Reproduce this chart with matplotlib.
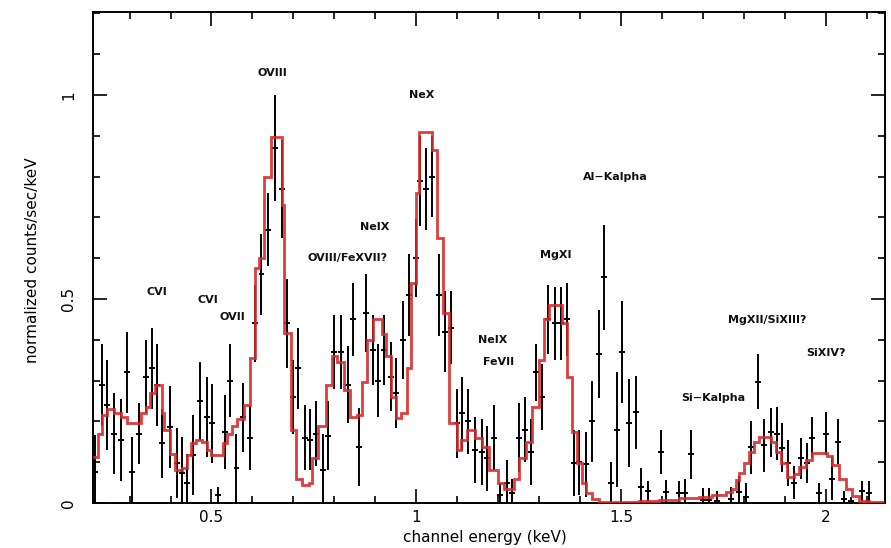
import matplotlib
matplotlib.use('Agg')
import matplotlib.pyplot as plt
from matplotlib.ticker import MultipleLocator

# ---- observed spectrum (keV, normalized counts/sec/keV, 1-sigma error) ----
energy = [0.215, 0.232, 0.246, 0.263, 0.278, 0.293, 0.307, 0.322, 0.339, 0.354,
          0.368, 0.380, 0.398, 0.415, 0.429, 0.441, 0.454, 0.473, 0.488, 0.502,
          0.517, 0.532, 0.546, 0.561, 0.578, 0.593, 0.607, 0.622, 0.637, 0.654,
          0.671, 0.685, 0.698, 0.712, 0.727, 0.741, 0.756, 0.771, 0.785, 0.800,
          0.817, 0.832, 0.846, 0.861, 0.878, 0.893, 0.907, 0.922, 0.939, 0.951,
          0.968, 0.983, 0.998, 1.010, 1.024, 1.039, 1.056, 1.071, 1.085, 1.100,
          1.112, 1.127, 1.144, 1.159, 1.173, 1.190, 1.205, 1.220, 1.234, 1.251,
          1.266, 1.280, 1.293, 1.307, 1.322, 1.339, 1.354, 1.368, 1.385, 1.398,
          1.415, 1.429, 1.446, 1.459, 1.476, 1.490, 1.502, 1.520, 1.537, 1.549,
          1.566, 1.598, 1.610, 1.641, 1.656, 1.671, 1.700, 1.715, 1.734, 1.768,
          1.788, 1.805, 1.817, 1.834, 1.849, 1.866, 1.880, 1.893, 1.907, 1.922,
          1.939, 1.954, 1.966, 1.983, 2.000, 2.015, 2.029, 2.044, 2.061, 2.088,
          2.105]
rate = [0.076, 0.290, 0.240, 0.170, 0.155, 0.320, 0.076, 0.170, 0.310, 0.330,
        0.290, 0.146, 0.186, 0.098, 0.073, 0.050, 0.117, 0.250, 0.210, 0.195,
        0.020, 0.174, 0.300, 0.085, 0.210, 0.160, 0.440, 0.560, 0.670, 0.870,
        0.770, 0.440, 0.260, 0.330, 0.160, 0.155, 0.170, 0.080, 0.165, 0.370,
        0.370, 0.290, 0.450, 0.137, 0.465, 0.375, 0.300, 0.375, 0.310, 0.270,
        0.400, 0.510, 0.600, 0.790, 0.770, 0.800, 0.510, 0.420, 0.430, 0.195,
        0.220, 0.200, 0.130, 0.125, 0.110, 0.160, 0.020, 0.050, 0.025, 0.160,
        0.180, 0.125, 0.320, 0.260, 0.450, 0.440, 0.440, 0.450, 0.098, 0.100,
        0.095, 0.200, 0.365, 0.553, 0.050, 0.180, 0.370, 0.196, 0.222, 0.040,
        0.030, 0.125, 0.027, 0.025, 0.025, 0.120, 0.007, 0.007, 0.005, 0.010,
        0.027, 0.015, 0.137, 0.297, 0.142, 0.174, 0.170, 0.135, 0.098, 0.050,
        0.110, 0.098, 0.160, 0.025, 0.170, 0.060, 0.150, 0.010, 0.005, 0.030,
        0.025]
rate_err = [0.090, 0.100, 0.110, 0.100, 0.100, 0.100, 0.085, 0.075, 0.090, 0.100,
            0.100, 0.085, 0.100, 0.085, 0.088, 0.070, 0.098, 0.096, 0.098, 0.096,
            0.020, 0.090, 0.090, 0.085, 0.085, 0.080, 0.095, 0.100, 0.090, 0.130,
            0.120, 0.110, 0.090, 0.100, 0.080, 0.075, 0.080, 0.090, 0.085, 0.090,
            0.090, 0.095, 0.090, 0.095, 0.095, 0.085, 0.090, 0.085, 0.085, 0.085,
            0.095, 0.100, 0.095, 0.110, 0.100, 0.100, 0.100, 0.100, 0.090, 0.085,
            0.090, 0.080, 0.080, 0.080, 0.080, 0.080, 0.030, 0.055, 0.035, 0.085,
            0.080, 0.080, 0.070, 0.080, 0.085, 0.090, 0.090, 0.090, 0.080, 0.080,
            0.080, 0.100, 0.108, 0.128, 0.050, 0.140, 0.126, 0.108, 0.090, 0.045,
            0.025, 0.055, 0.030, 0.030, 0.035, 0.060, 0.030, 0.030, 0.025, 0.030,
            0.040, 0.035, 0.065, 0.067, 0.065, 0.060, 0.065, 0.060, 0.057, 0.040,
            0.050, 0.050, 0.050, 0.025, 0.053, 0.053, 0.055, 0.020, 0.010, 0.025,
            0.030]
bin_half_width = 0.0073

# ---- folded model (step histogram) ----
model_edges = [0.210, 0.222, 0.234, 0.246, 0.263, 0.280, 0.295, 0.329, 0.341, 0.349,
               0.361, 0.378, 0.385, 0.398, 0.410, 0.427, 0.439, 0.451, 0.463, 0.476,
               0.488, 0.500, 0.527, 0.537, 0.549, 0.563, 0.580, 0.593, 0.605, 0.617,
               0.629, 0.644, 0.671, 0.678, 0.695, 0.707, 0.720, 0.739, 0.746, 0.759,
               0.780, 0.795, 0.807, 0.824, 0.837, 0.854, 0.868, 0.880, 0.893, 0.915,
               0.927, 0.939, 0.951, 0.963, 0.978, 0.988, 0.998, 1.007, 1.037, 1.051,
               1.066, 1.080, 1.098, 1.110, 1.124, 1.144, 1.159, 1.178, 1.198, 1.215,
               1.239, 1.251, 1.268, 1.283, 1.300, 1.312, 1.324, 1.356, 1.368, 1.380,
               1.393, 1.405, 1.415, 1.429, 1.446, 1.544, 1.593, 1.641, 1.690, 1.722,
               1.756, 1.771, 1.780, 1.788, 1.800, 1.812, 1.824, 1.837, 1.866, 1.878,
               1.890, 1.905, 1.922, 1.934, 1.951, 1.966, 2.002, 2.015, 2.032, 2.049,
               2.063, 2.080, 2.105, 2.141]
model_rate = [0.113, 0.170, 0.216, 0.230, 0.220, 0.210, 0.196, 0.220, 0.235, 0.270,
              0.290, 0.220, 0.180, 0.120, 0.080, 0.085, 0.117, 0.146, 0.155, 0.150,
              0.130, 0.117, 0.146, 0.170, 0.190, 0.207, 0.240, 0.355, 0.575, 0.600,
              0.800, 0.897, 0.730, 0.417, 0.180, 0.060, 0.045, 0.050, 0.110, 0.190,
              0.290, 0.360, 0.345, 0.277, 0.210, 0.215, 0.297, 0.400, 0.450, 0.415,
              0.360, 0.260, 0.208, 0.220, 0.330, 0.540, 0.760, 0.910, 0.865, 0.650,
              0.465, 0.195, 0.130, 0.155, 0.180, 0.160, 0.137, 0.080, 0.050, 0.035,
              0.060, 0.110, 0.150, 0.235, 0.350, 0.450, 0.485, 0.440, 0.310, 0.175,
              0.097, 0.048, 0.025, 0.010, 0.003, 0.005, 0.008, 0.012, 0.016, 0.020,
              0.027, 0.035, 0.056, 0.073, 0.097, 0.125, 0.150, 0.162, 0.150, 0.125,
              0.097, 0.064, 0.070, 0.088, 0.105, 0.122, 0.115, 0.093, 0.060, 0.035,
              0.018, 0.006, 0.003]

# ---- line identifications ----
line_labels = ["OVIII", "NeX", "NeIX", "OVIII/FeXVII?", "CVI", "CVI", "OVII",
               "Al\u2212Kalpha", "MgXI", "NeIX", "FeVII", "MgXII/SiXIII?", "SiXIV?",
               "Si\u2212Kalpha"]
line_x = [0.649, 1.012, 0.898, 0.832, 0.366, 0.490, 0.551,
          1.485, 1.339, 1.185, 1.200, 1.856, 2.000, 1.724]
line_y = [1.054, 1.000, 0.677, 0.600, 0.517, 0.498, 0.456,
          0.799, 0.608, 0.400, 0.346, 0.449, 0.368, 0.257]

fig = plt.figure(figsize=(8.91, 5.48), dpi=100)
ax = fig.add_axes([0.104, 0.082, 0.889, 0.896])

ax.errorbar(energy, rate, yerr=rate_err, xerr=bin_half_width, fmt='none',
            ecolor='black', elinewidth=1.4, capsize=0, zorder=2)
ax.stairs(model_rate, model_edges, color='#d82a2a', lw=2.0, baseline=None,
          alpha=0.9, zorder=3)

for t, x, y in zip(line_labels, line_x, line_y):
    ax.text(x, y, t, ha='center', va='center', fontsize=8, fontweight='bold',
            color='#111111')

ax.set_xlim(0.21, 2.143)
ax.set_ylim(0, 1.203)
ax.xaxis.set_major_locator(MultipleLocator(0.5))
ax.xaxis.set_minor_locator(MultipleLocator(0.1))
ax.yaxis.set_major_locator(MultipleLocator(0.5))
ax.yaxis.set_minor_locator(MultipleLocator(0.1))
ax.set_xticks([0.5, 1.0, 1.5, 2.0])
ax.set_xticklabels(["0.5", "1", "1.5", "2"])
ax.set_yticks([0, 0.5, 1.0])
ax.set_yticklabels(["0", "0.5", "1"])

ax.tick_params(which='both', direction='in', top=True, right=True, width=1.2,
               labelsize=11)
ax.tick_params(which='major', length=10)
ax.tick_params(which='minor', length=5)
ax.tick_params(axis='x', pad=5)
ax.tick_params(axis='y', pad=12, labelrotation=90)
for lab in ax.get_yticklabels():
    lab.set_va('center')

for s in ax.spines.values():
    s.set_linewidth(1.4)

ax.set_xlabel("channel energy (keV)", fontsize=11, va='center')
ax.set_ylabel("normalized counts/sec/keV", fontsize=11)
ax.xaxis.set_label_coords(0.495, -0.07)
ax.yaxis.set_label_coords(-0.067, 0.495)

fig.savefig("out.png", dpi=100)
